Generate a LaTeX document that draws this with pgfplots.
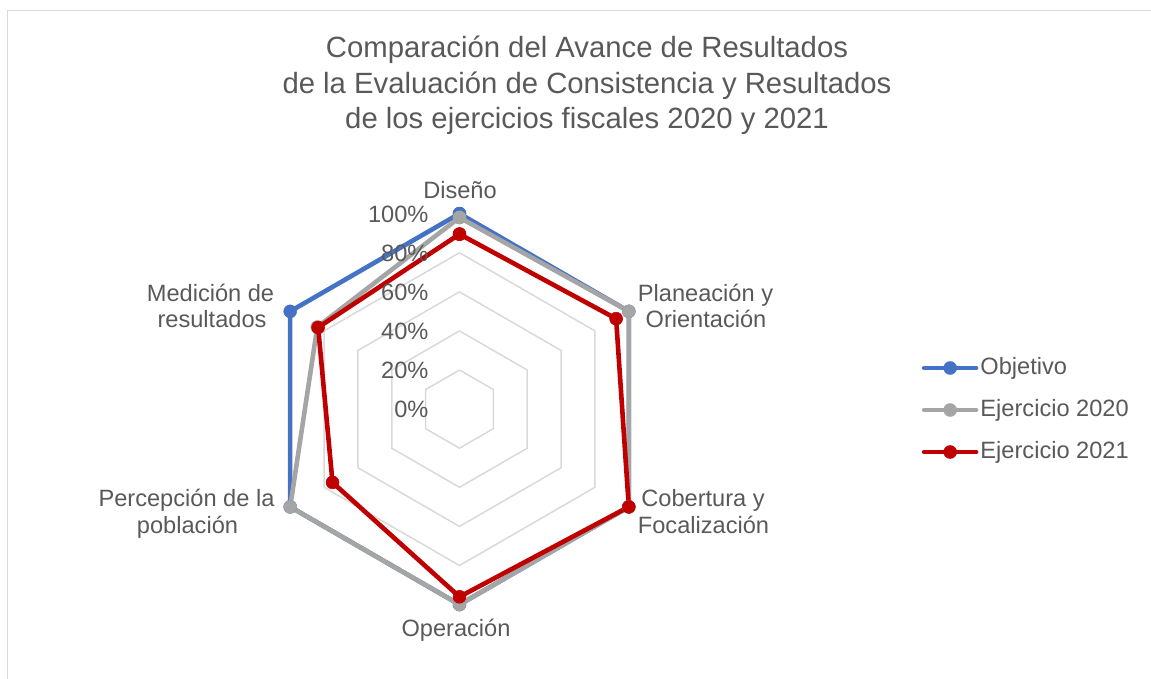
\documentclass[border=0pt]{standalone}
\usepackage{pgfplots}
\pgfplotsset{compat=1.18}
\usepgfplotslibrary{polar}
\usepackage{fontspec}
\setmainfont{Liberation Sans}
\definecolor{objblue}{HTML}{4472C4}
\definecolor{ejgray}{HTML}{A5A5A5}
\definecolor{ejred}{HTML}{C00000}
\definecolor{txt}{HTML}{595959}
\definecolor{gridc}{HTML}{D9D9D9}
\begin{document}
\begin{tikzpicture}
\useasboundingbox (0bp,0bp) rectangle (1151bp,-679bp);
\draw[gridc, line width=1.5bp] (7.5bp,-679bp) -- (7.5bp,-10.5bp) -- (1151bp,-10.5bp);
\begin{scope}[every node/.style={text=txt, font=\fontsize{29.4}{35}\selectfont, anchor=base}]
\node at (587bp,-57.5bp) {Comparación del Avance de Resultados};
\node at (587bp,-93bp) {de la Evaluación de Consistencia y Resultados};
\node at (587bp,-128.5bp) {de los ejercicios fiscales 2020 y 2021};
\end{scope}
\begin{polaraxis}[
  at={(459.5bp,-409.1bp)}, anchor=center,
  scale only axis, width=391bp, height=391bp,
  ymin=0, ymax=100,
  hide axis, clip=false,
  legend cell align=left,
  legend style={at={(axis description cs:1.682,0.4977)}, anchor=west, draw=none, fill=none,
    font=\fontsize{23.7}{28}\selectfont, text=txt, row sep=20bp, column sep=2bp, inner sep=0pt,
    nodes={inner sep=0pt, text height=17bp, text depth=5bp}},
  legend image code/.code={\draw[mark repeat=2,mark phase=2,#1] plot coordinates {(0bp,0bp) (26bp,0bp) (52bp,0bp)};},
]
\addplot[gridc, line width=1.5bp, forget plot] coordinates {(90,20) (30,20) (-30,20) (-90,20) (-150,20) (150,20) (90,20)};
\addplot[gridc, line width=1.5bp, forget plot] coordinates {(90,40) (30,40) (-30,40) (-90,40) (-150,40) (150,40) (90,40)};
\addplot[gridc, line width=1.5bp, forget plot] coordinates {(90,60) (30,60) (-30,60) (-90,60) (-150,60) (150,60) (90,60)};
\addplot[gridc, line width=1.5bp, forget plot] coordinates {(90,80) (30,80) (-30,80) (-90,80) (-150,80) (150,80) (90,80)};
\addplot[gridc, line width=1.5bp, forget plot] coordinates {(90,100) (30,100) (-30,100) (-90,100) (-150,100) (150,100) (90,100)};
% Objetivo
\addplot[objblue, line width=4.6bp, line join=round, line cap=round, mark=*, mark size=6.5bp, mark options={solid, fill=objblue, draw=objblue, line width=0.5bp}]
  coordinates {(90,100) (30,100) (-30,100) (-90,100) (-150,100) (150,100) (90,100)};
\addlegendentry{Objetivo}
% Ejercicio 2020
\addplot[ejgray, line width=4.6bp, line join=round, line cap=round, mark=*, mark size=6.5bp, mark options={solid, fill=ejgray, draw=ejgray, line width=0.5bp}]
  coordinates {(90,98) (30,100) (-30,100) (-90,100) (-150,100) (150,84) (90,98)};
\addlegendentry{Ejercicio 2020}
% Ejercicio 2021
\addplot[ejred, line width=4.6bp, line join=round, line cap=round, mark=*, mark size=6.5bp, mark options={solid, fill=ejred, draw=ejred, line width=0.5bp}]
  coordinates {(90,89.5) (30,92.5) (-30,100) (-90,96) (-150,75) (150,83.5) (90,89.5)};
\addlegendentry{Ejercicio 2021}
\end{polaraxis}
\begin{scope}[every node/.style={text=txt, font=\fontsize{23.7}{27}\selectfont}]
\node[anchor=base east] at (432bp,-417.5bp) {0\%};
\node[anchor=base east] at (432bp,-378.4bp) {20\%};
\node[anchor=base east] at (432bp,-339.3bp) {40\%};
\node[anchor=base east] at (432bp,-300.2bp) {60\%};
\node[anchor=base east] at (432bp,-261.1bp) {80\%};
\node[anchor=base east] at (432bp,-222bp) {100\%};
\node[anchor=base] at (460bp,-198bp) {Diseño};
\node[anchor=base] at (705.5bp,-301bp) {Planeación y};
\node[anchor=base] at (706bp,-327bp) {Orientación};
\node[anchor=base] at (703bp,-506bp) {Cobertura y};
\node[anchor=base] at (703.5bp,-533bp) {Focalización};
\node[anchor=base] at (456bp,-636bp) {Operación};
\node[anchor=base] at (186.5bp,-506bp) {Percepción de la};
\node[anchor=base] at (187.5bp,-533bp) {población};
\node[anchor=base] at (210.5bp,-301bp) {Medición de};
\node[anchor=base] at (212bp,-327bp) {resultados};
\end{scope}
\end{tikzpicture}
\end{document}
